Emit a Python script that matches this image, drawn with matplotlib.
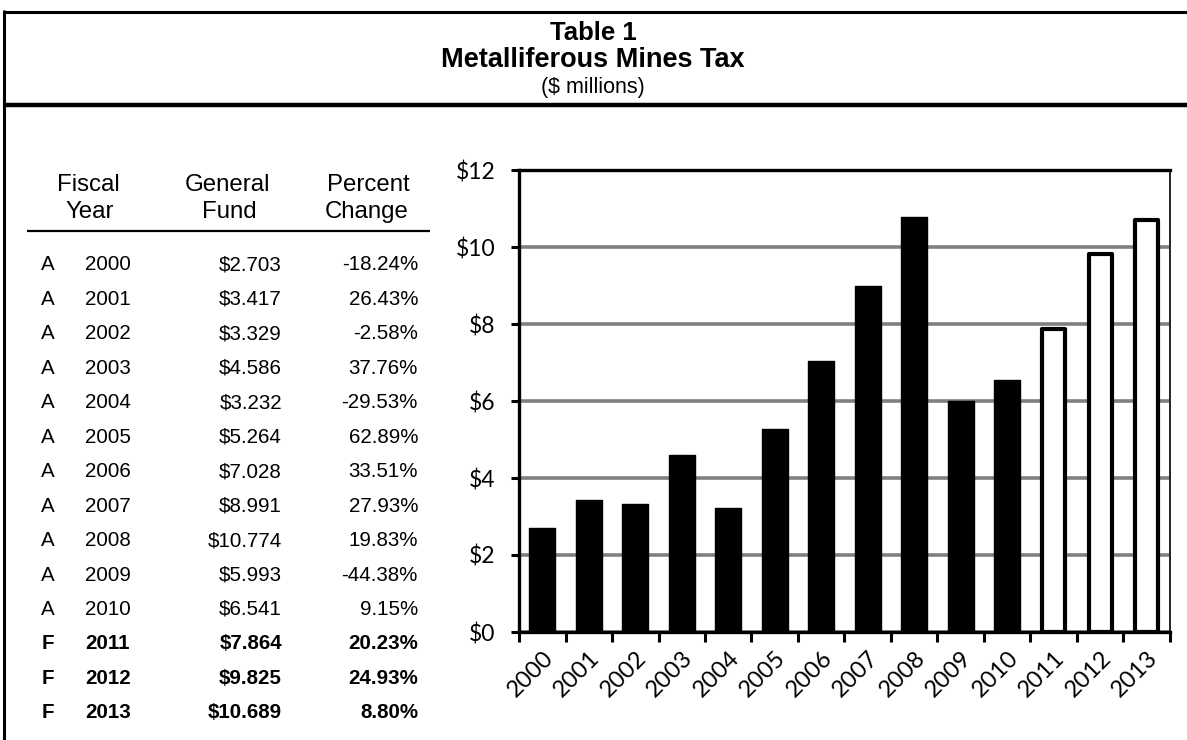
import numpy as np
import matplotlib.pyplot as plt
from matplotlib.lines import Line2D

# table / chart data
flags = ["A"] * 11 + ["F"] * 3
years = list(range(2000, 2014))
fund = [2.703, 3.417, 3.329, 4.586, 3.232, 5.264, 7.028, 8.991, 10.774,
        5.993, 6.541, 7.864, 9.825, 10.689]
pctChange = [-18.24, 26.43, -2.58, 37.76, -29.53, 62.89, 33.51, 27.93,
             19.83, -44.38, 9.15, 20.23, 24.93, 8.80]
yTicks = [0, 2, 4, 6, 8, 10, 12]

W, H = 1187, 740
fig = plt.figure(figsize=(W / 100, H / 100), dpi=100)
tableFont = "Liberation Sans"
axisFont = "Lato"


def px(x, y):
    # pixel coords (top-left origin) -> figure fraction
    return x / W, 1 - y / H


def hline(y, x0, x1, lw, color="black"):
    (a, b), (c, d) = px(x0, y), px(x1, y)
    fig.add_artist(Line2D([a, c], [b, d], lw=lw, color=color, solid_capstyle="butt"))


def vline(x, y0, y1, lw, color="black"):
    (a, b), (c, d) = px(x, y0), px(x, y1)
    fig.add_artist(Line2D([a, c], [b, d], lw=lw, color=color, solid_capstyle="butt"))


# outer frame
hline(11.5, 3, W, 2.2)
vline(4, 10, H, 2.2)
hline(105, 3, W, 3.2)

# title block
for text, y, weight, size in [("Table 1", 33, "bold", 18.5),
                              ("Metalliferous Mines Tax", 60, "bold", 19.5),
                              ("($ millions)", 87, "normal", 15.5)]:
    fig.text(*px(593, y), text, ha="center", va="center", fontsize=size,
             fontweight=weight, family=tableFont)

# table headers
fs = 14.8
for text, x, y in [("Fiscal", 88, 185), ("Year", 90, 212),
                   ("General", 228, 185), ("Fund", 229, 212),
                   ("Percent", 368, 185), ("Change", 367, 212)]:
    fig.text(*px(x, y), text, ha="center", va="center", fontsize=17.3, family=tableFont)
hline(231, 27, 430, 1.6)

rowY0, rowStep = 265, 34.45
for i in range(len(years)):
    y = rowY0 + i * rowStep
    w = "bold" if flags[i] == "F" else "normal"
    fig.text(*px(48, y), flags[i], ha="center", va="center", fontsize=fs, fontweight=w, family=tableFont)
    fig.text(*px(108, y), str(years[i]), ha="center", va="center", fontsize=fs, fontweight=w, family=tableFont)
    fig.text(*px(282, y), f"${fund[i]:.3f}", ha="right", va="center", fontsize=fs, fontweight=w, family=tableFont)
    fig.text(*px(418, y), f"{pctChange[i]:.2f}%", ha="right", va="center", fontsize=fs, fontweight=w, family=tableFont)

# chart
left, right, top, bottom = 519, 1170, 170, 632
ax = fig.add_axes([left / W, 1 - bottom / H, (right - left) / W, (bottom - top) / H])
x = np.arange(len(years))
for i in range(len(years)):
    if flags[i] == "A":
        ax.bar(x[i], fund[i], width=0.55, color="black", edgecolor="black",
               linewidth=1, joinstyle="round", zorder=3)
    else:
        ax.bar(x[i], fund[i], width=0.5, color="white", edgecolor="black",
               linewidth=3, joinstyle="round", zorder=3)

ax.set_xlim(-0.5, len(years) - 0.5)
ax.set_ylim(0, 12)
ax.set_yticks(yTicks)
ax.set_yticklabels([f"${v}" for v in yTicks], fontsize=16.5, family=axisFont)
ax.yaxis.grid(True, color="#808080", linewidth=2.6, zorder=0)
ax.set_axisbelow(True)

ax.set_xticks(np.arange(-0.5, len(years), 1), minor=False)
ax.set_xticklabels([])
ax.set_xticks(x, minor=True)
ax.set_xticklabels([str(yr) for yr in years], minor=True, rotation=45,
                   ha="right", va="top", rotation_mode="anchor",
                   fontsize=17, family=axisFont)
ax.tick_params(axis="x", which="minor", length=0, pad=11)
ax.tick_params(axis="x", which="major", length=7, width=2.2, direction="out")
ax.tick_params(axis="y", length=6, width=2.2, direction="out", pad=11)

for side in ["left", "bottom", "top"]:
    ax.spines[side].set_linewidth(2.4)
    ax.spines[side].set_color("black")
ax.spines["right"].set_linewidth(1.4)
ax.spines["right"].set_color("#222222")

fig.savefig("out.png", dpi=100)
